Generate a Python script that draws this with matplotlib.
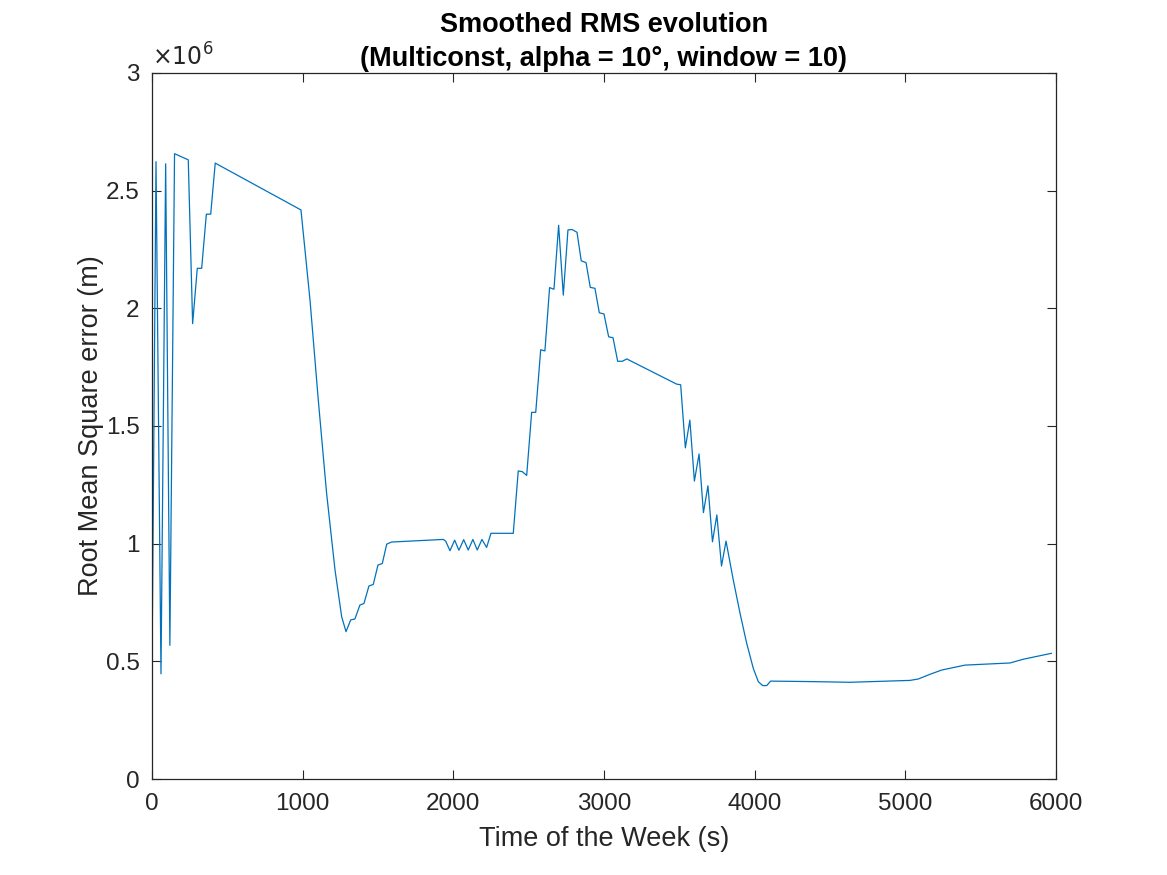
import matplotlib
matplotlib.use("Agg")
import matplotlib.pyplot as plt
from matplotlib.ticker import FuncFormatter

plt.rcParams["font.family"] = ["Liberation Sans", "DejaVu Sans"]

# time of week (s) and smoothed RMS (m)
t = [0, 27, 60, 91, 119, 150, 241, 270, 301, 330, 361, 390, 420, 989,
     1049, 1104, 1159, 1215, 1259, 1288, 1319, 1347, 1380, 1407, 1440, 1469,
     1500, 1529, 1558, 1591, 1934, 1950, 1978, 2009, 2037, 2069, 2099, 2130,
     2159, 2190, 2221, 2250, 2398, 2431, 2458, 2487, 2520, 2547, 2580, 2608,
     2639, 2668, 2699, 2730, 2761, 2788, 2821, 2849, 2881, 2909, 2940, 2969,
     3000, 3031, 3060, 3091, 3122, 3151, 3482, 3509, 3540, 3570, 3600, 3631,
     3660, 3690, 3720, 3749, 3780, 3810, 3858, 3903, 3947, 3991, 4024, 4053,
     4080, 4106, 4367, 4633, 5031, 5086, 5164, 5241, 5396, 5694, 5783, 5969]
rms = [0.44e6, 2.623e6, 0.447e6, 2.614e6, 0.568e6, 2.657e6, 2.631e6, 1.935e6,
       2.17e6, 2.17e6, 2.40e6, 2.40e6, 2.617e6, 2.418e6,
       2.035e6, 1.610e6, 1.215e6, 0.888e6, 0.690e6, 0.626e6, 0.676e6, 0.680e6,
       0.739e6, 0.746e6, 0.820e6, 0.827e6,
       0.909e6, 0.916e6, 0.998e6, 1.007e6, 1.018e6, 1.010e6, 0.970e6, 1.015e6,
       0.972e6, 1.017e6, 0.973e6, 1.018e6,
       0.973e6, 1.018e6, 0.984e6, 1.044e6, 1.044e6, 1.309e6, 1.306e6, 1.290e6,
       1.558e6, 1.558e6, 1.824e6, 1.819e6,
       2.088e6, 2.081e6, 2.353e6, 2.056e6, 2.333e6, 2.335e6, 2.323e6, 2.202e6,
       2.194e6, 2.089e6, 2.085e6, 1.981e6,
       1.976e6, 1.879e6, 1.875e6, 1.775e6, 1.775e6, 1.785e6, 1.678e6, 1.675e6,
       1.407e6, 1.525e6, 1.266e6, 1.381e6,
       1.132e6, 1.246e6, 1.008e6, 1.122e6, 0.905e6, 1.011e6, 0.846e6, 0.704e6,
       0.577e6, 0.470e6, 0.414e6, 0.397e6,
       0.397e6, 0.416e6, 0.414e6, 0.411e6, 0.419e6, 0.425e6, 0.445e6, 0.463e6,
       0.484e6, 0.493e6, 0.509e6, 0.534e6]

fig = plt.figure(figsize=(11.67, 8.75), dpi=100)
ax = fig.add_axes([0.1302, 0.1097, 0.7747, 0.8069])

ax.plot(t, rms, color="#0072BD", linewidth=0.9)

ax.set_xlim(0, 6000)
ax.set_ylim(0, 3e6)
ax.set_xticks([0, 1000, 2000, 3000, 4000, 5000, 6000])
ax.set_yticks([0, 0.5e6, 1e6, 1.5e6, 2e6, 2.5e6, 3e6])
ax.yaxis.set_major_formatter(FuncFormatter(lambda v, p: f"{v / 1e6:g}"))
ax.tick_params(direction="in", length=6.5, width=0.8, labelsize=17.5,
               top=True, right=True, colors="#262626")
ax.tick_params(axis="x", pad=10)
ax.tick_params(axis="y", pad=9)
for s in ax.spines.values():
    s.set_linewidth(0.9)
    s.set_color("#262626")

ax.text(0.0, 1.004, r"$\times10^{6}$", transform=ax.transAxes,
        fontsize=17, color="#262626", ha="left", va="bottom")

ax.set_xlabel("Time of the Week (s)", fontsize=19.5, color="#262626", labelpad=8)
ax.set_ylabel("Root Mean Square error (m)", fontsize=19.5, color="#262626", labelpad=1)
ax.set_title("Smoothed RMS evolution\n(Multiconst, alpha = 10°, window = 10)",
             fontsize=19.5, fontweight="bold", linespacing=1.4, pad=5)

fig.savefig("out.png", dpi=100)
